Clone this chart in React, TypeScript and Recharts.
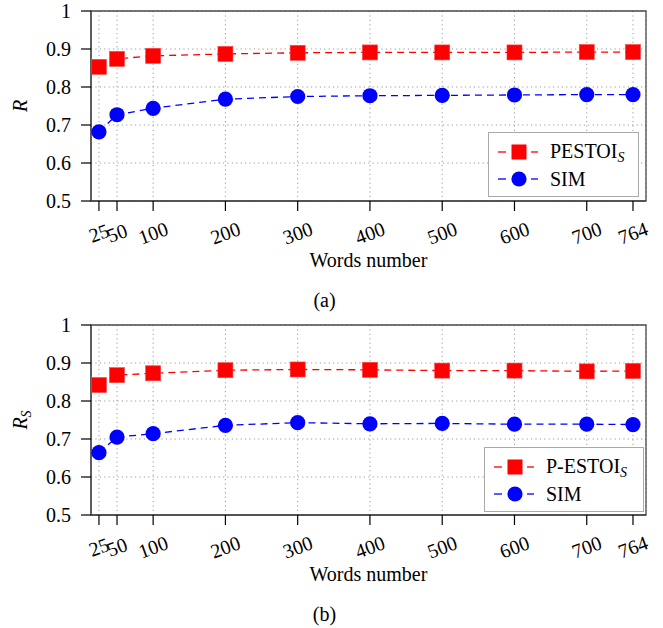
import React from 'react';
import { LineChart, Line, XAxis, YAxis, CartesianGrid, ReferenceArea, Legend } from 'recharts';

const words = [25, 50, 100, 200, 300, 400, 500, 600, 700, 764];
const pestoiA = [0.853, 0.874, 0.882, 0.887, 0.890, 0.891, 0.891, 0.891, 0.892, 0.892];
const simA = [0.682, 0.727, 0.744, 0.768, 0.775, 0.777, 0.778, 0.779, 0.780, 0.780];
const pestoiB = [0.842, 0.868, 0.873, 0.881, 0.883, 0.882, 0.880, 0.880, 0.878, 0.879];
const simB = [0.664, 0.705, 0.714, 0.736, 0.743, 0.740, 0.741, 0.739, 0.739, 0.738];
const yTicks = [0.5, 0.6, 0.7, 0.8, 0.9, 1];
const xDomain = [14, 782];

const FONT = '"Liberation Serif", "Times New Roman", serif';
const RED = '#ff0000';
const BLUE = '#0000ff';
const AXIS = '#4a4a4a';

const dataA = words.map((w, i) => ({ w, a: pestoiA[i], b: simA[i] }));
const dataB = words.map((w, i) => ({ w, a: pestoiB[i], b: simB[i] }));

const Square = (p: any) => (
  <rect key={`sq-${p.index}`} x={p.cx - 7.5} y={p.cy - 7.5} width={15} height={15} fill={RED} stroke="#ff4040" strokeWidth={0.6} />
);
const Circle = (p: any) => (
  <circle key={`ci-${p.index}`} cx={p.cx} cy={p.cy} r={7.6} fill={BLUE} stroke="none" />
);

const XTick = (props: any) => {
  const { x, y, payload } = props;
  return (
    <g transform={`translate(${x},${y})`}>
      <text x={0} y={0} transform="translate(0,22) rotate(-20)" textAnchor="middle" dominantBaseline="central" fontSize={20} fill="#000" fontFamily={FONT}>
        {payload.value}
      </text>
    </g>
  );
};

const LegendBox = ({ name }: { name: string }) => (
  <div style={{ width: '100%', height: '100%', boxSizing: 'border-box', border: '1.3px solid #aaa', background: '#fff', fontFamily: FONT, fontSize: 20, color: '#000', position: 'relative' }}>
    {[{ c: RED, sq: true, label: <span>{name}<i style={{ fontSize: 14, position: 'relative', top: 4 }}>S</i></span>, top: 19 },
      { c: BLUE, sq: false, label: <span>SIM</span>, top: 46 }].map((e, i) => (
      <div key={i} style={{ position: 'absolute', left: 0, top: e.top - 12, height: 24, display: 'flex', alignItems: 'center' }}>
        <svg width={54} height={24} style={{ marginLeft: 6 }}>
          <line x1={3} y1={12} x2={11} y2={12} stroke={e.c} strokeWidth={1.3} />
          <line x1={36} y1={12} x2={43} y2={12} stroke={e.c} strokeWidth={1.3} />
          {e.sq ? <rect x={16.5} y={4.5} width={15} height={15} fill={e.c} /> : <circle cx={24} cy={12} r={7.6} fill={e.c} />}
        </svg>
        <div style={{ marginLeft: 1, lineHeight: '24px', whiteSpace: 'nowrap' }}>{e.label}</div>
      </div>
    ))}
  </div>
);

const Panel = ({ data, name, yLabel, caption, legendPos }: any) => (
  <LineChart width={663} height={314} data={data} margin={{ top: 11, right: 17, bottom: 43, left: 0 }}>
    <CartesianGrid stroke="#9a9a9a" strokeDasharray="1.2 3.2" strokeWidth={1} />
    <XAxis
      dataKey="w"
      type="number"
      domain={xDomain}
      ticks={words}
      interval={0}
      height={70}
      tickSize={10}
      tickMargin={0}
      tick={<XTick />}
      tickLine={{ stroke: '#000', strokeWidth: 1.2 }}
      axisLine={{ stroke: AXIS, strokeWidth: 1.3 }}
      allowDataOverflow
      label={() => (
        <g>
          <text x={368.5} y={267} textAnchor="middle" fontSize={20} fill="#000" fontFamily={FONT}>Words number</text>
          <text x={324.5} y={307} textAnchor="middle" fontSize={20} fill="#000" fontFamily={FONT}>{caption}</text>
        </g>
      )}
    />
    <YAxis
      type="number"
      domain={[0.5, 1]}
      ticks={yTicks}
      interval={0}
      width={91}
      tickSize={10}
      tickMargin={10}
      tickFormatter={(v: number) => (v === 1 ? '1' : v.toFixed(1))}
      tick={{ fontSize: 20, fill: '#000', fontFamily: FONT }}
      tickLine={{ stroke: '#000', strokeWidth: 1.2 }}
      axisLine={{ stroke: AXIS, strokeWidth: 1.3 }}
      label={() => (
        <text transform="translate(27,106) rotate(-90)" textAnchor="middle" fontSize={20} fill="#000" fontFamily={FONT} fontStyle="italic">
          <tspan>R</tspan>
          {yLabel ? <tspan fontSize={14} dy={4}>S</tspan> : null}
        </text>
      )}
    />
    <ReferenceArea x1={xDomain[0]} x2={xDomain[1]} y1={0.5} y2={1} fill="none" stroke={AXIS} strokeWidth={1.3} ifOverflow="visible" />
    <Line dataKey="a" name={name} stroke={RED} strokeWidth={1.3} strokeDasharray="7 5" dot={Square} activeDot={false} isAnimationActive={false} />
    <Line dataKey="b" name="SIM" stroke={BLUE} strokeWidth={1.3} strokeDasharray="7 5" dot={Circle} activeDot={false} isAnimationActive={false} />
    <Legend
      layout="vertical"
      align="center"
      verticalAlign="middle"
      content={() => <LegendBox name={name} />}
      wrapperStyle={{ left: legendPos.left, top: legendPos.top, width: legendPos.width, height: 65, right: 'auto', bottom: 'auto' }}
    />
  </LineChart>
);

export default function App() {
  return (
    <div style={{ position: 'absolute', left: 0, top: 0, width: 663, height: 628, background: '#fff', fontFamily: FONT }}>
      <div style={{ position: 'absolute', left: 0, top: 0 }}>
        <Panel data={dataA} name="PESTOI" yLabel={false} caption="(a)" legendPos={{ left: 488, top: 132, width: 151 }} />
      </div>
      <div style={{ position: 'absolute', left: 0, top: 314 }}>
        <Panel data={dataB} name="P-ESTOI" yLabel={true} caption="(b)" legendPos={{ left: 484, top: 133, width: 160 }} />
      </div>
    </div>
  );
}
